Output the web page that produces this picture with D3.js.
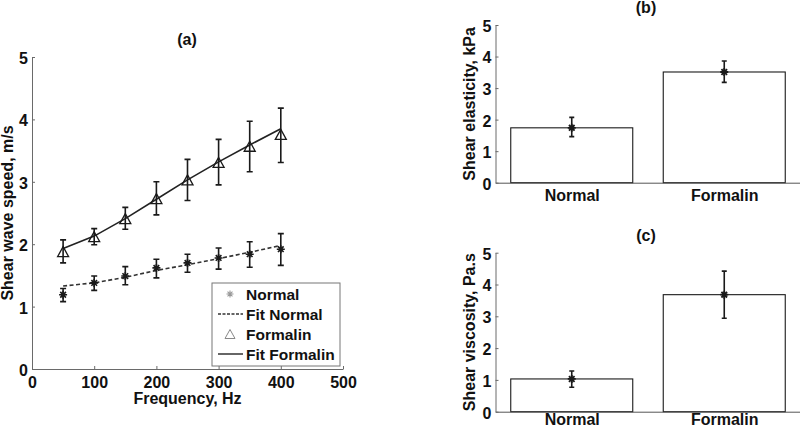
<!DOCTYPE html>
<html>
<head>
<meta charset="utf-8">
<script src="https://cdn.jsdelivr.net/npm/d3@7"></script>
<style>
  html, body { margin: 0; padding: 0; background: #fff; }
  svg { display: block; }
  text { font-family: "Liberation Sans", Arial, sans-serif; font-weight: bold; fill: #111; }
</style>
</head>
<body>
<svg id="chart" width="800" height="429"></svg>
<script>
// ---------- Panel (a) data ----------
const freq = [50, 100, 150, 200, 250, 300, 350, 400];
const normalSpeed = [1.19, 1.38, 1.49, 1.62, 1.70, 1.78, 1.84, 1.92];
const normalLow   = [1.08, 1.26, 1.35, 1.46, 1.55, 1.60, 1.63, 1.66];
const normalHigh  = [1.29, 1.49, 1.64, 1.76, 1.84, 1.94, 2.04, 2.17];
const normalFit   = [1.33, 1.38, 1.47, 1.58, 1.67, 1.77, 1.87, 1.98];
const formalinSpeed = [1.88, 2.12, 2.41, 2.73, 3.03, 3.31, 3.57, 3.76];
const formalinLow   = [1.70, 1.99, 2.24, 2.47, 2.70, 2.95, 3.16, 3.31];
const formalinHigh  = [2.07, 2.25, 2.59, 3.00, 3.36, 3.68, 3.97, 4.18];
const formalinFit   = [1.93, 2.13, 2.41, 2.72, 3.03, 3.32, 3.59, 3.85];
const freqTicks = [0, 100, 200, 300, 400, 500];
const valueTicks = [0, 1, 2, 3, 4, 5];
const legendLabels = ["Normal", "Fit Normal", "Formalin", "Fit Formalin"];

// ---------- Panels (b), (c) data ----------
const groups = ["Normal", "Formalin"];
const elasticity = [1.74, 3.51];
const elasticityLow = [1.46, 3.18];
const elasticityHigh = [2.07, 3.86];
const viscosity = [1.03, 3.68];
const viscosityLow = [0.77, 2.94];
const viscosityHigh = [1.28, 4.42];

const svg = d3.select("#chart");
const AX = "#6a6a6a";
const INK = "#1a1a1a";
const FS = 16;

function starPath(r) {
  const d = r * Math.SQRT1_2;
  return `M${-r},0L${r},0M0,${-r}L0,${r}M${-d},${-d}L${d},${d}M${-d},${d}L${d},${-d}`;
}
function triPath(w, h) {
  return `M0,${-h / 2}L${w / 2},${h / 2}L${-w / 2},${h / 2}Z`;
}

function styleAxis(g) {
  g.attr("font-size", null).attr("font-family", null);
  g.select(".domain").attr("stroke", AX).attr("stroke-width", 1);
  g.selectAll(".tick line").attr("stroke", AX);
  g.selectAll(".tick text").attr("fill", "#111").style("font-size", FS + "px")
    .style("font-weight", "bold").style("font-family", "'Liberation Sans', Arial, sans-serif");
}

// ===================== Panel (a) =====================
{
  const x = d3.scaleLinear().domain([0, 500]).range([32, 343]);
  const y = d3.scaleLinear().domain([0, 5]).range([369, 57]);
  const g = svg.append("g");

  const xa = g.append("g").attr("transform", `translate(0,${y(0)})`)
    .call(d3.axisBottom(x).tickValues(freqTicks).tickFormat(d3.format("d"))
      .tickSizeInner(-3).tickSizeOuter(0).tickPadding(8));
  styleAxis(xa);
  const ya = g.append("g").attr("transform", `translate(${x(0)},0)`)
    .call(d3.axisLeft(y).tickValues(valueTicks).tickFormat(d3.format("d"))
      .tickSizeInner(-3).tickSizeOuter(0).tickPadding(4));
  styleAxis(ya);
  ya.selectAll(".tick text").attr("dy", "0.4em");

  g.append("text").attr("x", 187).attr("y", 45).attr("text-anchor", "middle")
    .style("font-size", FS + "px").text("(a)");
  g.append("text").attr("x", (x(0) + x(500)) / 2).attr("y", 404).attr("text-anchor", "middle")
    .style("font-size", FS + "px").text("Frequency, Hz");
  g.append("text").attr("transform", `translate(13,${(y(0) + y(5)) / 2}) rotate(-90)`)
    .attr("text-anchor", "middle").style("font-size", FS + "px").text("Shear wave speed, m/s");

  const line = d3.line().x((d, i) => x(freq[i])).y(d => y(d));
  g.append("path").attr("d", line(normalFit)).attr("fill", "none")
    .attr("stroke", "#333").attr("stroke-width", 1.6).attr("stroke-dasharray", "4,2.5");
  g.append("path").attr("d", line(formalinFit)).attr("fill", "none")
    .attr("stroke", "#222").attr("stroke-width", 1.6);

  function errBars(low, high) {
    freq.forEach((f, i) => {
      const cx = x(f);
      g.append("path")
        .attr("d", `M${cx},${y(low[i])}L${cx},${y(high[i])}M${cx - 3},${y(low[i])}L${cx + 3},${y(low[i])}M${cx - 3},${y(high[i])}L${cx + 3},${y(high[i])}`)
        .attr("stroke", INK).attr("stroke-width", 1.6).attr("fill", "none");
    });
  }
  errBars(normalLow, normalHigh);
  errBars(formalinLow, formalinHigh);

  g.selectAll(".nm").data(normalSpeed).join("path")
    .attr("transform", (d, i) => `translate(${x(freq[i])},${y(d)})`)
    .attr("d", starPath(4)).attr("stroke", INK).attr("stroke-width", 1.6).attr("fill", "none");
  g.selectAll(".fm").data(formalinSpeed).join("path")
    .attr("transform", (d, i) => `translate(${x(freq[i])},${y(d)})`)
    .attr("d", triPath(11, 10)).attr("stroke", INK).attr("stroke-width", 1.3).attr("fill", "none");

  // legend
  const lg = g.append("g");
  lg.append("rect").attr("x", 212).attr("y", 283).attr("width", 128).attr("height", 83)
    .attr("fill", "#fff").attr("stroke", "#777").attr("stroke-width", 1);
  const rows = [294, 314, 334, 354];
  lg.append("path").attr("transform", `translate(230,${rows[0]})`).attr("d", starPath(3.5))
    .attr("stroke", "#999").attr("stroke-width", 1.1).attr("fill", "none");
  lg.append("path").attr("d", `M218,${rows[1]}L243,${rows[1]}`).attr("stroke", "#333")
    .attr("stroke-width", 1.3).attr("stroke-dasharray", "3,1.5");
  lg.append("path").attr("transform", `translate(230,${rows[2]})`).attr("d", triPath(10, 9))
    .attr("stroke", "#888").attr("stroke-width", 1).attr("fill", "none");
  lg.append("path").attr("d", `M218,${rows[3]}L243,${rows[3]}`).attr("stroke", "#333")
    .attr("stroke-width", 1.5);
  legendLabels.forEach((t, i) => {
    lg.append("text").attr("x", 246).attr("y", rows[i]).attr("dy", "0.36em")
      .style("font-size", "15.5px").text(t);
  });
}

// ===================== Panels (b), (c) =====================
function barPanel(top, bottom, title, titleY, ylabel, vals, low, high, catPad) {
  const x = d3.scaleLinear().domain([0.5, 2.5]).range([495.5, 800.5]);
  const y = d3.scaleLinear().domain([0, 5]).range([bottom, top]);
  const g = svg.append("g");
  const bw = (x(1.4) - x(0.6));

  g.selectAll("rect.bar").data(vals).join("rect")
    .attr("x", (d, i) => x(i + 1) - bw / 2).attr("width", bw)
    .attr("y", d => y(d)).attr("height", d => y(0) - y(d))
    .attr("fill", "#fff").attr("stroke", INK).attr("stroke-width", 1.1);

  const xa = g.append("g").attr("transform", `translate(0,${y(0)})`)
    .call(d3.axisBottom(x).tickValues([1, 2]).tickFormat((d) => groups[d - 1]).tickSize(0).tickPadding(catPad));
  styleAxis(xa);
  xa.select(".domain").attr("stroke", "#555");
  const ya = g.append("g").attr("transform", `translate(${x(0.5)},0)`)
    .call(d3.axisLeft(y).tickValues(valueTicks).tickFormat(d3.format("d"))
      .tickSizeInner(-3).tickSizeOuter(0).tickPadding(4));
  styleAxis(ya);
  ya.selectAll(".tick text").attr("dy", "0.4em");

  vals.forEach((v, i) => {
    const cx = x(i + 1);
    g.append("path")
      .attr("d", `M${cx},${y(low[i])}L${cx},${y(high[i])}M${cx - 2.5},${y(low[i])}L${cx + 2.5},${y(low[i])}M${cx - 2.5},${y(high[i])}L${cx + 2.5},${y(high[i])}`)
      .attr("stroke", INK).attr("stroke-width", 1.6).attr("fill", "none");
    g.append("path").attr("transform", `translate(${cx},${y(v)})`).attr("d", starPath(4))
      .attr("stroke", INK).attr("stroke-width", 1.8).attr("fill", "none");
  });

  g.append("text").attr("x", 646).attr("y", titleY).attr("text-anchor", "middle")
    .style("font-size", FS + "px").text(title);
  g.append("text").attr("transform", `translate(475,${(top + bottom) / 2}) rotate(-90)`)
    .attr("text-anchor", "middle").style("font-size", "16px").text(ylabel);
}
barPanel(25, 182.7, "(b)", 13, "Shear elasticity, kPa", elasticity, elasticityLow, elasticityHigh, 7);
barPanel(252.7, 411.7, "(c)", 241, "Shear viscosity, Pa.s", viscosity, viscosityLow, viscosityHigh, 2);
</script>
</body>
</html>
